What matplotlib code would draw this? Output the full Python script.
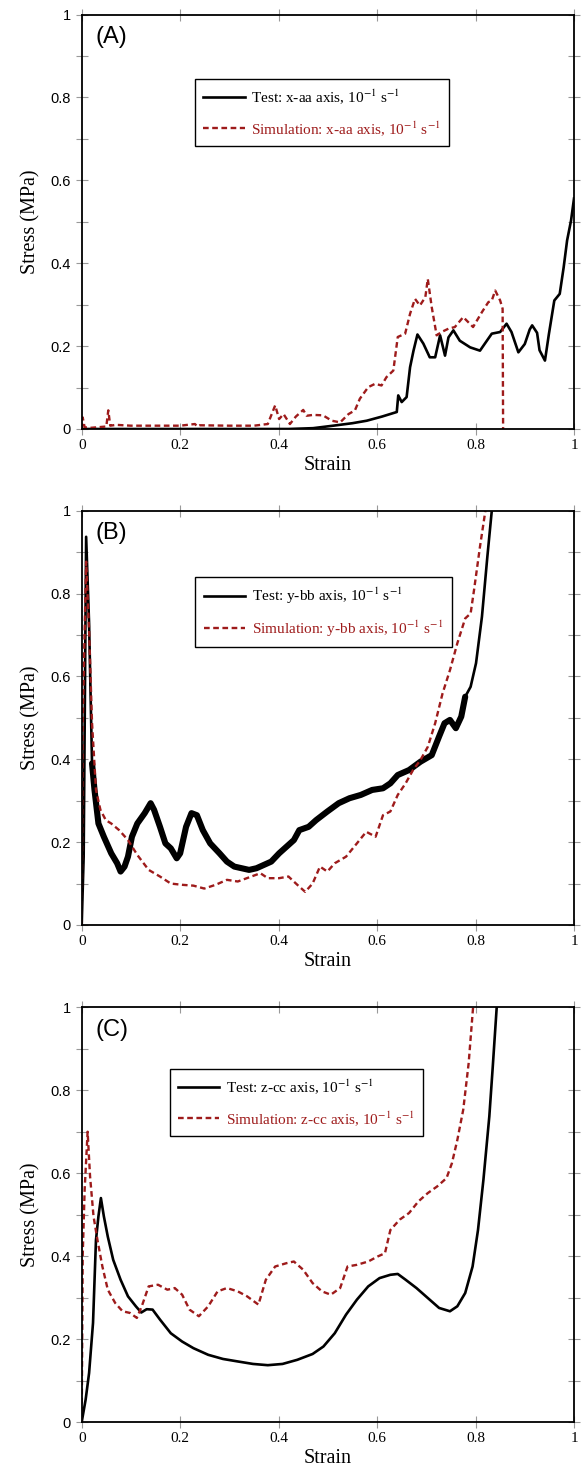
import matplotlib
matplotlib.use("Agg")
import matplotlib.pyplot as plt

plt.rcParams['mathtext.fontset'] = 'stix'

# ---------------- data ----------------
# Panel A: x-aa axis
a_test_x = [0.0, 0.20, 0.42, 0.47, 0.511, 0.55, 0.579, 0.61, 0.640, 0.643, 0.650, 0.660, 0.667,
            0.674, 0.682, 0.694, 0.707, 0.718, 0.728, 0.738, 0.745, 0.755, 0.768, 0.789, 0.809,
            0.823, 0.833, 0.850, 0.863, 0.873, 0.887, 0.900, 0.910, 0.915, 0.925, 0.930, 0.941,
            0.949, 0.960, 0.971, 0.979, 0.986, 0.994, 1.0]
a_test_y = [0.0, 0.0, 0.0, 0.002, 0.008, 0.014, 0.020, 0.030, 0.041, 0.081, 0.065, 0.077, 0.149,
            0.189, 0.228, 0.206, 0.173, 0.173, 0.226, 0.177, 0.221, 0.238, 0.213, 0.197, 0.189,
            0.213, 0.230, 0.234, 0.254, 0.234, 0.185, 0.205, 0.240, 0.250, 0.232, 0.190, 0.165,
            0.229, 0.310, 0.326, 0.390, 0.455, 0.503, 0.556]
a_sim_x = [0.0, 0.002, 0.006, 0.02, 0.04, 0.05, 0.054, 0.058, 0.07, 0.10, 0.15, 0.20, 0.23, 0.235,
           0.24, 0.30, 0.35, 0.378, 0.393, 0.401, 0.410, 0.423, 0.435, 0.450, 0.457, 0.470,
           0.490, 0.508, 0.525, 0.542, 0.555, 0.565, 0.582, 0.596, 0.609, 0.619, 0.633, 0.642,
           0.657, 0.667, 0.677, 0.687, 0.698, 0.703, 0.711, 0.721, 0.731, 0.745, 0.758, 0.775,
           0.785, 0.795, 0.813, 0.826, 0.833, 0.840, 0.850, 0.855, 0.856]
a_sim_y = [0.0, 0.028, 0.004, 0.003, 0.005, 0.006, 0.045, 0.008, 0.010, 0.008, 0.008, 0.008, 0.012,
           0.006, 0.009, 0.008, 0.008, 0.012, 0.057, 0.024, 0.036, 0.012, 0.030, 0.046, 0.032,
           0.034, 0.033, 0.020, 0.016, 0.036, 0.045, 0.073, 0.101, 0.109, 0.105, 0.125, 0.141,
           0.222, 0.230, 0.278, 0.314, 0.298, 0.318, 0.362, 0.294, 0.226, 0.234, 0.242, 0.246,
           0.270, 0.258, 0.246, 0.282, 0.306, 0.310, 0.334, 0.310, 0.290, 0.0]

# Panel B: y-bb axis
b_test_x = [0.0, 0.004, 0.009, 0.015, 0.021, 0.026, 0.034, 0.045, 0.060, 0.072, 0.079, 0.087,
            0.094, 0.102, 0.113, 0.128, 0.140, 0.147, 0.159, 0.170, 0.181, 0.193, 0.200, 0.212,
            0.223, 0.234, 0.246, 0.261, 0.280, 0.295, 0.310, 0.325, 0.340, 0.355, 0.370, 0.385,
            0.401, 0.416, 0.431, 0.442, 0.461, 0.476, 0.499, 0.522, 0.544, 0.567, 0.590, 0.612,
            0.627, 0.642, 0.665, 0.688, 0.711, 0.726, 0.737, 0.748, 0.760, 0.771, 0.779, 0.790,
            0.801, 0.813, 0.824, 0.833, 0.838]
b_test_y = [0.0, 0.165, 0.937, 0.728, 0.390, 0.326, 0.245, 0.213, 0.173, 0.149, 0.129, 0.141,
            0.165, 0.213, 0.245, 0.270, 0.294, 0.278, 0.237, 0.197, 0.185, 0.161, 0.173, 0.237,
            0.270, 0.265, 0.229, 0.197, 0.173, 0.153, 0.141, 0.137, 0.133, 0.137, 0.145, 0.153,
            0.173, 0.189, 0.205, 0.229, 0.237, 0.253, 0.274, 0.294, 0.306, 0.314, 0.326, 0.330,
            0.342, 0.362, 0.374, 0.394, 0.410, 0.455, 0.487, 0.495, 0.475, 0.503, 0.551, 0.575,
            0.632, 0.744, 0.889, 1.0, 1.05]
b_sim_x = [0.0, 0.002, 0.009, 0.015, 0.021, 0.029, 0.038, 0.049, 0.060, 0.076, 0.094, 0.113,
           0.136, 0.159, 0.181, 0.204, 0.227, 0.249, 0.272, 0.295, 0.317, 0.340, 0.363, 0.378,
           0.401, 0.420, 0.438, 0.454, 0.469, 0.484, 0.499, 0.514, 0.537, 0.559, 0.578, 0.597,
           0.612, 0.627, 0.642, 0.658, 0.673, 0.688, 0.703, 0.718, 0.733, 0.748, 0.763, 0.779,
           0.790, 0.797, 0.809, 0.820, 0.825]
b_sim_y = [0.0, 0.487, 0.877, 0.712, 0.487, 0.326, 0.278, 0.253, 0.245, 0.229, 0.205, 0.169,
           0.133, 0.117, 0.100, 0.097, 0.095, 0.088, 0.097, 0.109, 0.105, 0.115, 0.125, 0.113,
           0.113, 0.117, 0.097, 0.080, 0.100, 0.141, 0.129, 0.149, 0.165, 0.197, 0.225, 0.213,
           0.265, 0.274, 0.314, 0.342, 0.374, 0.398, 0.430, 0.487, 0.559, 0.615, 0.680, 0.740,
           0.752, 0.809, 0.913, 1.0, 1.05]

# Panel C: z-cc axis
c_test_x = [0.0, 0.008, 0.015, 0.023, 0.029, 0.034, 0.039, 0.045, 0.053, 0.064, 0.079, 0.094,
            0.110, 0.121, 0.132, 0.144, 0.159, 0.181, 0.204, 0.227, 0.257, 0.287, 0.317, 0.348,
            0.378, 0.408, 0.438, 0.469, 0.491, 0.514, 0.537, 0.559, 0.582, 0.605, 0.627, 0.642,
            0.658, 0.680, 0.703, 0.726, 0.748, 0.763, 0.779, 0.794, 0.805, 0.816, 0.828, 0.835,
            0.843, 0.847]
c_test_y = [0.0, 0.054, 0.118, 0.239, 0.439, 0.496, 0.540, 0.496, 0.447, 0.391, 0.343, 0.303,
            0.279, 0.264, 0.272, 0.271, 0.247, 0.214, 0.194, 0.178, 0.162, 0.152, 0.146, 0.140,
            0.137, 0.140, 0.150, 0.164, 0.182, 0.214, 0.259, 0.295, 0.327, 0.347, 0.355, 0.357,
            0.343, 0.323, 0.299, 0.275, 0.267, 0.279, 0.311, 0.375, 0.463, 0.584, 0.737, 0.857,
            1.0, 1.05]
c_sim_x = [0.0, 0.002, 0.006, 0.012, 0.017, 0.024, 0.032, 0.042, 0.053, 0.068, 0.083, 0.098,
           0.112, 0.122, 0.136, 0.155, 0.174, 0.189, 0.204, 0.219, 0.238, 0.257, 0.276, 0.295,
           0.317, 0.336, 0.359, 0.374, 0.393, 0.416, 0.431, 0.450, 0.469, 0.488, 0.506, 0.525,
           0.540, 0.559, 0.582, 0.601, 0.616, 0.627, 0.646, 0.665, 0.684, 0.703, 0.722, 0.741,
           0.752, 0.763, 0.775, 0.786, 0.795, 0.799]
c_sim_y = [0.0, 0.400, 0.560, 0.700, 0.592, 0.496, 0.439, 0.375, 0.319, 0.287, 0.267, 0.263,
           0.251, 0.279, 0.327, 0.331, 0.319, 0.323, 0.307, 0.271, 0.255, 0.279, 0.315, 0.323,
           0.315, 0.303, 0.283, 0.343, 0.375, 0.383, 0.387, 0.367, 0.335, 0.315, 0.307, 0.323,
           0.375, 0.379, 0.387, 0.399, 0.407, 0.463, 0.488, 0.504, 0.532, 0.552, 0.568, 0.588,
           0.624, 0.680, 0.753, 0.865, 1.0, 1.05]

panel_labels = ["(A)", "(B)", "(C)"]
axis_names = ["x-aa", "y-bb", "z-cc"]
x_ticks = [0, 0.2, 0.4, 0.6, 0.8, 1]
x_ticklabels = ["0", "0.2", "0.4", "0.6", "0.8", "1"]
y_ticks = [0, 0.2, 0.4, 0.6, 0.8, 1]
y_ticklabels = ["0", "0.2", "0.4", "0.6", "0.8", "1"]

tests = [(a_test_x, a_test_y), (b_test_x, b_test_y), (c_test_x, c_test_y)]
sims = [(a_sim_x, a_sim_y), (b_sim_x, b_sim_y), (c_sim_x, c_sim_y)]

# ---------------- style ----------------
RED = "#9E1B1B"
SERIF = "Liberation Serif"
SANS = "Liberation Sans"

fig = plt.figure(figsize=(5.84, 14.74), dpi=100)
W, H = 584.0, 1474.0
left_px, right_px = 81.7, 574.0
panels_px = [(14.5, 429.0), (510.7, 925.0), (1007.3, 1422.0)]
legend_anchor = [(0.230, 0.844), (0.231, 0.839), (0.179, 0.851)]

for i, (top, bot) in enumerate(panels_px):
    ax = fig.add_axes([left_px / W, 1 - bot / H, (right_px - left_px) / W, (bot - top) / H])
    tx, ty = tests[i]
    sx, sy = sims[i]
    ax.plot(tx, ty, color="black", lw=1.9, solid_joinstyle="round",
            label="Test: %s axis, 10$^{-1}$ s$^{-1}$" % axis_names[i], zorder=3)
    if i == 1:
        # noisy band of the test record
        ax.plot(tx[4:59], ty[4:59], color="black", lw=4.4, solid_joinstyle="round",
                solid_capstyle="round", zorder=3)
    ax.plot(sx, sy, color=RED, lw=1.7, linestyle=(0, (2.4, 1.5)),
            label="Simulation: %s axis, 10$^{-1}$ s$^{-1}$" % axis_names[i], zorder=4)

    ax.set_xlim(0, 1)
    ax.set_ylim(0, 1)
    ax.set_xticks(x_ticks)
    ax.set_xticklabels(x_ticklabels, fontfamily=SERIF, fontsize=11)
    ax.set_yticks(y_ticks)
    ax.set_yticklabels(y_ticklabels, fontfamily=SANS, fontsize=10.5)
    ax.set_yticks([0.1, 0.3, 0.5, 0.7, 0.9], minor=True)
    ax.tick_params(which="both", direction="inout", length=9, width=0.8, color="#999999",
                   top=True, right=True)
    ax.tick_params(axis="x", which="major", pad=2.5)
    ax.tick_params(axis="y", which="major", pad=3.5)
    for sp in ax.spines.values():
        sp.set_linewidth(1.3)
        sp.set_color("black")
        sp.set_zorder(5)

    ax.set_xlabel("Strain", fontfamily=SERIF, fontsize=14.5, labelpad=3)
    ax.set_ylabel("Stress (MPa)", fontfamily=SERIF, fontsize=14.5, labelpad=7)

    ax.text(0.028, 0.972, panel_labels[i], transform=ax.transAxes, ha="left", va="top",
            fontfamily=SANS, fontsize=17)

    leg = ax.legend(loc="upper left", bbox_to_anchor=legend_anchor[i], borderaxespad=0,
                    prop={"family": SERIF, "size": 11}, frameon=True, fancybox=False,
                    handlelength=2.7, handletextpad=0.45, borderpad=0.55, labelspacing=0.8)
    fr = leg.get_frame()
    fr.set_edgecolor("black")
    fr.set_linewidth(1.0)
    fr.set_alpha(1)
    leg.get_texts()[1].set_color(RED)
    leg.set_zorder(6)

fig.savefig("out.png", dpi=100)
